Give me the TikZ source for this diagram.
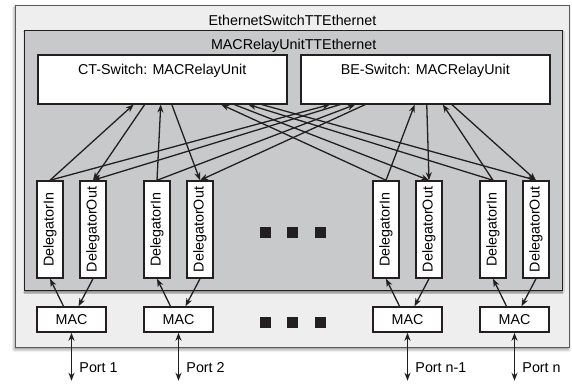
\documentclass[tikz,border=0pt]{standalone}
\usepackage{fontspec}
\setmainfont{Liberation Sans}
\usetikzlibrary{arrows.meta,calc,shadows.blur}

\definecolor{outergray}{HTML}{EEEEEE}
\definecolor{innergray}{HTML}{C8C9CB}
\definecolor{ink}{HTML}{231F20}

\tikzset{
  box/.style={draw=ink, line width=1.5pt, fill=white, inner sep=0pt},
  deleg/.style={box, minimum width=26pt, minimum height=97pt},
  macbox/.style={box, minimum width=69pt, minimum height=25pt},
  switchbox/.style={box, anchor=north west, minimum width=249pt, text height=20pt, text depth=29pt},
  link/.style={draw=ink, line width=1.3pt, -{Stealth[length=8pt,width=6pt,inset=2.5pt]}},
  dot/.style={fill=ink, minimum size=11pt, inner sep=0pt},
}

\begin{document}
\begin{tikzpicture}[x=1pt, y=-1pt, font=\fontsize{14.3}{17}\selectfont]
    \useasboundingbox (0,0) rectangle (572,384);

    % the two containers
    \node[draw=black!65, line width=0.9pt, fill=outergray, inner sep=0pt, anchor=north west,
          minimum width=554pt, text height=20pt, text depth=322pt,
          blur shadow={shadow xshift=-1pt, shadow yshift=-2pt, shadow blur radius=3pt, shadow opacity=45}]
          (ethsw) at (15,5) {EthernetSwitchTTEthernet};
    \node[draw=ink, line width=1.3pt, fill=innergray, inner sep=0pt, anchor=north west,
          minimum width=538pt, text height=19pt, text depth=241pt,
          blur shadow={shadow xshift=0pt, shadow yshift=-1.5pt, shadow blur radius=1.5pt, shadow opacity=50}]
          (relay) at (24,30) {MACRelayUnitTTEthernet};

    \node[switchbox] (ct) at (37,54) {CT-Switch: MACRelayUnit};
    \node[switchbox] (be) at (300,54) {BE-Switch: MACRelayUnit};

    % ports with MAC and delegators
    \foreach \i/\x/\p in {1/71.5/1, 2/178.5/2, 3/407.5/n-1, 4/514.5/n} {
        \node[macbox] (mac\i) at (\x,319.5) {MAC};
        \node[deleg] (din\i) at (\x-21.5,229.5) {\rotatebox{90}{DelegatorIn}};
        \node[deleg] (dout\i) at (\x+21.5,229.5) {\rotatebox{90}{DelegatorOut}};
        \draw[link] ($(mac\i.north)+(-8,0)$) -- (din\i.south);
        \draw[link] (dout\i.south) -- ($(mac\i.north)+(7,0)$);
        \draw[link, {Stealth[length=8pt,width=6pt,inset=2.5pt]}-{Stealth[length=8pt,width=6pt,inset=2.5pt]}]
            (mac\i.south) -- ++(0,48) node[pos=.72, anchor=west, xshift=4pt] (port\i) {Port \p};
    }

    % delegators to both switches
    \foreach \i/\a/\b/\c/\d in {1/.386/.430/.120/.161, 2/.494/.538/.221/.261,
                                3/.735/.787/.458/.506, 4/.843/.896/.570/.606} {
        \draw[link] (din\i.north) -- ($(ct.south west)!\a!(ct.south east)$);
        \draw[link] ($(ct.south west)!\b!(ct.south east)$) -- (dout\i.north);
        \draw[link] (din\i.north) -- ($(be.south west)!\c!(be.south east)$);
        \draw[link] ($(be.south west)!\d!(be.south east)$) -- (dout\i.north);
    }

    % dots
    \foreach \x [count=\k] in {265.5,292.5,320.5} {
        \node[dot] (dotup\k) at (\x,232.5) {};
        \node[dot] (dotlow\k) at (\x,322.5) {};
    }
\end{tikzpicture}
\end{document}
